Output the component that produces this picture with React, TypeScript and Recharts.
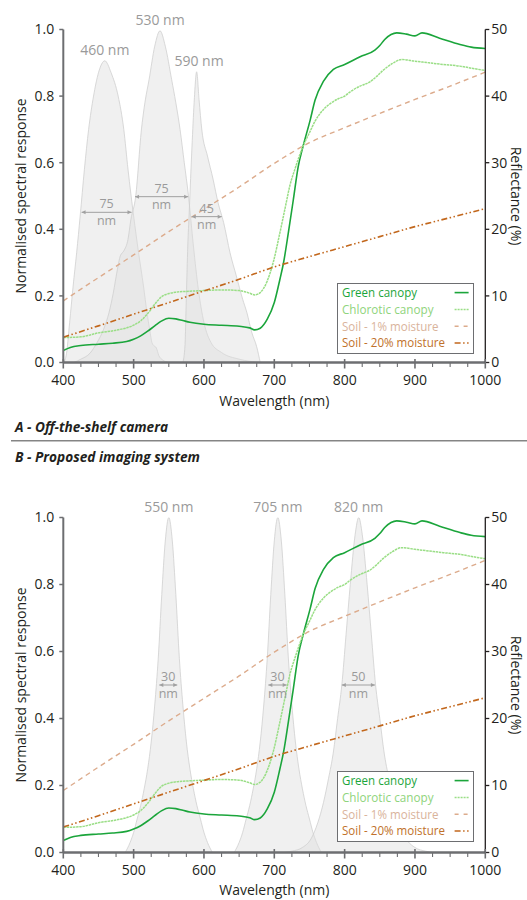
import React from 'react';
import { ComposedChart, Line, Area, XAxis, YAxis, ReferenceLine, ReferenceDot, Legend } from 'recharts';

// ---------------- data ----------------
const xTicks = [400, 425, 450, 475, 500, 525, 550, 575, 600, 625, 650, 675, 700, 725, 750, 775, 800, 825, 850, 875, 900, 925, 950, 975, 1000];
const leftTicks = [0, 0.2, 0.4, 0.6, 0.8, 1.0];
const rightTicks = [0, 10, 20, 30, 40, 50];

const greenNm = [400, 410, 425, 450, 470, 490, 500, 510, 520, 530, 540, 550, 560, 570, 580, 600, 625, 650, 665, 672, 680, 690, 700, 708, 713, 720, 727, 734, 741, 751, 758, 770, 784, 800, 822, 843, 850, 857, 866, 874, 888, 900, 910, 935, 964, 980, 1000];
const greenPct = [1.8, 2.25, 2.55, 2.75, 2.9, 3.15, 3.5, 4.0, 4.7, 5.5, 6.25, 6.65, 6.55, 6.3, 6.05, 5.75, 5.6, 5.45, 5.2, 4.9, 5.15, 6.5, 9.0, 12.5, 14.9, 19.5, 24.4, 29.4, 32.5, 36.4, 39.4, 42.25, 44.0, 44.75, 45.9, 46.9, 47.6, 48.5, 49.25, 49.5, 49.3, 49.05, 49.5, 48.7, 47.75, 47.35, 47.15];

const chlorNm = [400, 425, 450, 475, 500, 510, 520, 530, 540, 550, 560, 580, 600, 625, 650, 665, 672, 680, 690, 699, 708, 716, 722, 730, 741, 750, 758, 770, 780, 791, 800, 808, 822, 836, 845, 855, 868, 881, 900, 920, 940, 964, 985, 1000];
const chlorPct = [3.75, 3.85, 4.45, 4.85, 5.6, 6.25, 7.35, 8.75, 9.9, 10.35, 10.55, 10.7, 10.8, 10.9, 10.8, 10.4, 10.15, 10.5, 12.25, 15.25, 19.5, 23.5, 26.5, 29.25, 32.5, 34.5, 36.25, 38.0, 38.9, 39.6, 40.0, 40.65, 41.5, 42.15, 42.9, 43.9, 44.9, 45.5, 45.25, 45.0, 44.75, 44.5, 44.1, 43.85];

const soilNm = [400, 450, 500, 550, 600, 650, 700, 750, 800, 850, 900, 950, 1000];
const soil1Pct = [9.25, 12.75, 16.15, 19.65, 23.0, 26.35, 29.9, 33.0, 35.25, 37.4, 39.5, 41.5, 43.6];
const soil20Pct = [3.8, 5.5, 7.25, 9.0, 10.75, 12.5, 14.35, 15.9, 17.4, 18.9, 20.4, 21.75, 23.1];

// off-the-shelf camera filters (normalised response)
const blueNm = [400, 404, 409, 414, 419, 424, 430, 436, 443, 450, 459, 468, 478, 486, 492, 500, 507, 514, 519, 523, 526, 529, 532, 536, 541, 550];
const blueResp = [0, 0.02, 0.12, 0.23, 0.33, 0.44, 0.58, 0.70, 0.80, 0.87, 0.906, 0.87, 0.80, 0.70, 0.58, 0.44, 0.33, 0.23, 0.15, 0.097, 0.06, 0.05, 0.045, 0.02, 0.008, 0];
const camGreenNm = [415, 425, 438, 448, 457, 465, 471, 477, 481, 486, 492, 496, 503, 511, 516, 522, 530, 537.5, 545, 554, 560, 566, 572, 578, 585, 592, 600, 610, 625, 650, 680];
const camGreenResp = [0, 0.01, 0.028, 0.06, 0.098, 0.15, 0.208, 0.28, 0.32, 0.335, 0.37, 0.428, 0.5, 0.698, 0.78, 0.85, 0.95, 0.996, 0.95, 0.85, 0.78, 0.70, 0.60, 0.50, 0.35, 0.22, 0.12, 0.06, 0.03, 0.01, 0];
const redNm = [570, 573, 575, 577, 579, 583, 586, 589.6, 593, 597, 605, 613, 620, 628, 637, 646, 655, 661, 668, 675, 680];
const redResp = [0, 0.05, 0.2, 0.35, 0.45, 0.65, 0.78, 0.873, 0.79, 0.698, 0.62, 0.55, 0.48, 0.42, 0.33, 0.26, 0.19, 0.15, 0.09, 0.047, 0];

// proposed imaging system filters
const f550Nm = [488, 495, 500, 505, 510, 515, 520, 525, 530, 535, 540, 545, 550, 555, 560, 565, 570, 575, 580, 585, 590, 595, 600, 605, 612];
const f550Resp = [0, 0.03, 0.06, 0.1, 0.14, 0.19, 0.25, 0.33, 0.44, 0.58, 0.77, 0.93, 1.0, 0.93, 0.77, 0.58, 0.44, 0.33, 0.25, 0.19, 0.14, 0.1, 0.06, 0.03, 0];
const f705Nm = [643, 650, 655, 660, 665, 670, 675, 680, 685, 690, 695, 700, 705, 710, 715, 720, 725, 730, 735, 740, 745, 750, 755, 760, 767];
const f705Resp = [0, 0.03, 0.06, 0.1, 0.14, 0.19, 0.25, 0.33, 0.44, 0.58, 0.77, 0.93, 1.0, 0.93, 0.77, 0.58, 0.44, 0.33, 0.25, 0.19, 0.14, 0.1, 0.06, 0.03, 0];
const f820Nm = [714, 725, 740, 752, 762, 770, 777, 784, 790, 796, 802, 808, 815, 820, 825, 832, 838, 844, 850, 856, 863, 870, 878, 888, 900, 915, 926];
const f820Resp = [0, 0.004, 0.015, 0.04, 0.09, 0.15, 0.22, 0.3, 0.4, 0.5, 0.65, 0.8, 0.95, 1.0, 0.95, 0.8, 0.65, 0.5, 0.4, 0.3, 0.22, 0.15, 0.09, 0.04, 0.015, 0.004, 0];

// peak labels
const camPeakNm = [459, 537.5, 593];
const camPeakVal = [0.906, 0.996, 0.873];
const camPeakText = ['460 nm', '530 nm', '590 nm'];
const newPeakNm = [550, 705, 820];
const newPeakVal = [1.0, 1.0, 1.0];
const newPeakText = ['550 nm', '705 nm', '820 nm'];

// bandwidth annotations (from, to, level, label)
const camBwFrom = [426, 502, 582.6];
const camBwTo = [497, 577.5, 625.2];
const camBwLevel = [0.451, 0.498, 0.438];
const camBwText = ['75', '75', '45'];
const newBwFrom = [536.5, 691.5, 796];
const newBwTo = [562, 717.6, 843];
const newBwLevel = [0.5, 0.5, 0.5];
const newBwText = ['30', '30', '50'];

const seriesNames = ['Green canopy', 'Chlorotic canopy', 'Soil - 1% moisture', 'Soil - 20% moisture'];

// ---------------- styles ----------------
const FONT = "'Open Sans', 'Noto Sans', sans-serif";
const INK = '#231f20';
const AXIS_GRAY = '#6d6e71';
const LABEL_GRAY = '#9a9a9a';
const seriesStyle = [
  { stroke: '#1ba53b', width: 1.6, dash: undefined as string | undefined, legendDash: undefined as string | undefined, text: '#1ba53b', textLen: 75 },
  { stroke: '#9ade86', width: 1.5, dash: '2.5 0.7', legendDash: '2 1', text: '#8fd47c', textLen: 91.5 },
  { stroke: '#dcab8c', width: 1.4, dash: '5 4', legendDash: '4 5', text: '#d9b39b', textLen: 96.5 },
  { stroke: '#c2671c', width: 1.6, dash: '6 2.5 1.5 2.5 1.5 2.5', legendDash: '6 2.5 1.5 2.5 1.5 2.5', text: '#c0712a', textLen: 103 },
];

const zip = (nm: number[], v: number[]) => nm.map((x, i) => ({ nm: x, v: v[i] }));

const XTick = (props: any) => {
  const { x, y, payload } = props;
  const v = payload.value as number;
  const major = v % 100 === 0;
  return (
    <g>
      <line x1={x} x2={x} y1={major ? y - 3.5 : y} y2={major ? y + 6 : y + 4.5} stroke={AXIS_GRAY} strokeWidth={major ? 1.6 : 1.1} />
      {major && (
        <text x={x} y={y + 22} textAnchor="middle" fontSize={14} fill={INK} fontFamily={FONT}>
          {v}
        </text>
      )}
    </g>
  );
};

const LegendBox = () => (
  <svg width={137} height={71} style={{ display: 'block' }}>
    <rect x={0.5} y={0.5} width={136} height={70} fill="#ffffff" stroke="#6d6e71" strokeWidth={1} />
    {seriesNames.map((name, i) => {
      const s = seriesStyle[i];
      const cy = 9.6 + i * 16.8;
      return (
        <g key={name}>
          <text x={5} y={cy + 4.3} fontSize={12.5} fill={s.text} fontFamily={FONT} textLength={s.textLen} lengthAdjust="spacingAndGlyphs">
            {name}
          </text>
          <line x1={117.6} x2={131.6} y1={cy} y2={cy} stroke={s.stroke} strokeWidth={s.width} strokeDasharray={s.legendDash} />
        </g>
      );
    })}
  </svg>
);

type ChartProps = {
  top: number;
  height: number;
  filters: { nm: number; v: number }[][];
  peakNm: number[];
  peakVal: number[];
  peakText: string[];
  bwFrom: number[];
  bwTo: number[];
  bwLevel: number[];
  bwText: string[];
};

function SpectralChart(p: ChartProps) {
  const lines = [
    zip(greenNm, greenPct),
    zip(chlorNm, chlorPct),
    zip(soilNm, soil1Pct),
    zip(soilNm, soil20Pct),
  ];
  return (
    <div style={{ position: 'absolute', left: 0, top: p.top }}>
      <ComposedChart width={527} height={p.height} margin={{ top: 29.5, right: 11.7, bottom: 27.5, left: 13.3 }}>
        <XAxis
          dataKey="nm"
          type="number"
          domain={[400, 1000]}
          ticks={xTicks}
          interval={0}
          allowDataOverflow
          height={30}
          tickLine={false}
          tickSize={0}
          tickMargin={0}
          axisLine={{ stroke: AXIS_GRAY, strokeWidth: 2.5 }}
          tick={(tp: any) => <XTick {...tp} />}
        />
        <YAxis
          yAxisId="left"
          type="number"
          domain={[0, 1]}
          ticks={leftTicks}
          interval={0}
          allowDataOverflow
          width={50}
          tickSize={4}
          tickMargin={5}
          tickFormatter={(v: number) => v.toFixed(1)}
          axisLine={{ stroke: AXIS_GRAY, strokeWidth: 2 }}
          tickLine={{ stroke: AXIS_GRAY, strokeWidth: 1.5 }}
          tick={{ fill: INK, fontSize: 14, fontFamily: FONT }}
        />
        <YAxis
          yAxisId="right"
          orientation="right"
          type="number"
          domain={[0, 50]}
          ticks={rightTicks}
          interval={0}
          allowDataOverflow
          width={30}
          tickSize={4}
          tickMargin={2}
          axisLine={{ stroke: INK, strokeWidth: 1.3 }}
          tickLine={{ stroke: INK, strokeWidth: 1.3 }}
          tick={{ fill: INK, fontSize: 14, fontFamily: FONT }}
        />
        {p.filters.map((f, i) => (
          <Area
            key={'f' + i}
            yAxisId="left"
            data={f}
            dataKey="v"
            type="monotone"
            fill="#dedede"
            fillOpacity={0.45}
            stroke="#cfcfcf"
            strokeWidth={0.8}
            isAnimationActive={false}
            dot={false}
            activeDot={false}
          />
        ))}
        {lines.map((d, i) => (
          <Line
            key={'l' + i}
            yAxisId="right"
            data={d}
            dataKey="v"
            name={seriesNames[i]}
            type="monotone"
            stroke={seriesStyle[i].stroke}
            strokeWidth={seriesStyle[i].width}
            strokeDasharray={seriesStyle[i].dash}
            dot={false}
            activeDot={false}
            isAnimationActive={false}
          />
        ))}
        {p.peakNm.map((x, i) => (
          <ReferenceDot
            key={'pk' + i}
            yAxisId="left"
            x={x}
            y={p.peakVal[i]}
            r={0}
            ifOverflow="visible"
            shape={(sp: any) => (
              <text x={sp.cx} y={sp.cy - 5.5} textAnchor="middle" fontSize={14} fill={LABEL_GRAY} fontFamily={FONT}>
                {p.peakText[i]}
              </text>
            )}
          />
        ))}
        {p.bwFrom.map((x, i) => (
          <ReferenceLine
            key={'bw' + i}
            yAxisId="left"
            segment={[
              { x, y: p.bwLevel[i] },
              { x: p.bwTo[i], y: p.bwLevel[i] },
            ]}
            ifOverflow="visible"
            shape={(sp: any) => {
              const { x1, x2, y1 } = sp;
              const cx = (x1 + x2) / 2;
              return (
                <g>
                  <line x1={x1} x2={x2} y1={y1} y2={y1} stroke="#a0a0a0" strokeWidth={1} />
                  <path d={`M${x1},${y1} l4,-2 v4 z`} fill="#a0a0a0" />
                  <path d={`M${x2},${y1} l-4,-2 v4 z`} fill="#a0a0a0" />
                  <text x={cx} y={y1 - 4} textAnchor="middle" fontSize={12.5} fill={LABEL_GRAY} fontFamily={FONT}>
                    {p.bwText[i]}
                  </text>
                  <text x={cx} y={y1 + 12.5} textAnchor="middle" fontSize={12.5} fill={LABEL_GRAY} fontFamily={FONT}>
                    nm
                  </text>
                </g>
              );
            }}
          />
        ))}
        <Legend
          layout="vertical"
          align="center"
          verticalAlign="middle"
          content={() => <LegendBox />}
          wrapperStyle={{ left: 336.7, top: 283.3, width: 137, height: 71 }}
        />
      </ComposedChart>
    </div>
  );
}

export default function App() {
  return (
    <div style={{ position: 'absolute', left: 0, top: 0, width: 527, height: 900, background: '#fff', overflow: 'hidden' }}>
      <SpectralChart
        top={0}
        height={420}
        filters={[zip(blueNm, blueResp), zip(camGreenNm, camGreenResp), zip(redNm, redResp)]}
        peakNm={camPeakNm}
        peakVal={camPeakVal}
        peakText={camPeakText}
        bwFrom={camBwFrom}
        bwTo={camBwTo}
        bwLevel={camBwLevel}
        bwText={camBwText}
      />
      <SpectralChart
        top={488}
        height={422}
        filters={[zip(f550Nm, f550Resp), zip(f705Nm, f705Resp), zip(f820Nm, f820Resp)]}
        peakNm={newPeakNm}
        peakVal={newPeakVal}
        peakText={newPeakText}
        bwFrom={newBwFrom}
        bwTo={newBwTo}
        bwLevel={newBwLevel}
        bwText={newBwText}
      />
      <svg width={527} height={900} style={{ position: 'absolute', left: 0, top: 0, pointerEvents: 'none' }}>
        <g fontFamily={FONT} fill={INK} fontSize={14}>
          <text transform="translate(26,196) rotate(-90)" textAnchor="middle">Normalised spectral response</text>
          <text transform="translate(511,196) rotate(90)" textAnchor="middle">Reflectance (%)</text>
          <text x={274.3} y={406} textAnchor="middle">Wavelength (nm)</text>
          <text transform="translate(26,685) rotate(-90)" textAnchor="middle">Normalised spectral response</text>
          <text transform="translate(511,685) rotate(90)" textAnchor="middle">Reflectance (%)</text>
          <text x={274.3} y={895} textAnchor="middle">Wavelength (nm)</text>
        </g>
        <g fontFamily={FONT} fill={INK} fontSize={15} fontWeight="bold" fontStyle="italic">
          <text x={15} y={432} textLength={153} lengthAdjust="spacingAndGlyphs">A - Off-the-shelf camera</text>
          <text x={15} y={462} textLength={185} lengthAdjust="spacingAndGlyphs">B - Proposed imaging system</text>
        </g>
        <line x1={11} x2={527} y1={440.7} y2={440.7} stroke="#858585" strokeWidth={1.5} />
      </svg>
    </div>
  );
}
